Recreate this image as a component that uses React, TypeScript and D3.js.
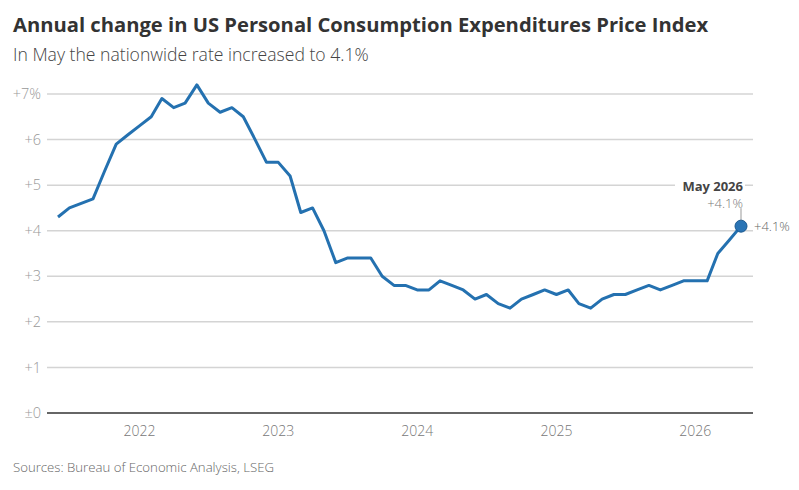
import * as d3 from "d3";

// monthly PCE price index, % change from a year earlier, Jun 2021 – May 2026
const startMonth = new Date(2021, 5, 1);
const pceChange = [
  4.3, 4.5, 4.6, 4.7, 5.3, 5.9, 6.1, 6.3, 6.5, 6.9, 6.7, 6.8,
  7.2, 6.8, 6.6, 6.7, 6.5, 6.0, 5.5, 5.5, 5.2, 4.4, 4.5, 4.0,
  3.3, 3.4, 3.4, 3.4, 3.0, 2.8, 2.8, 2.7, 2.7, 2.9, 2.8, 2.7,
  2.5, 2.6, 2.4, 2.3, 2.5, 2.6, 2.7, 2.6, 2.7, 2.4, 2.3, 2.5,
  2.6, 2.6, 2.7, 2.8, 2.7, 2.8, 2.9, 2.9, 2.9, 3.5, 3.8, 4.1,
];
const yTicks = [0, 1, 2, 3, 4, 5, 6, 7];
const yearTicks = [2022, 2023, 2024, 2025, 2026];

const W = 799;
const H = 490;
const FONT = "'Open Sans', 'Noto Sans', sans-serif";

export default function App() {
  const data = pceChange.map((v, i) => ({
    date: d3.timeMonth.offset(startMonth, i),
    value: v,
  }));

  const x = d3
    .scaleTime()
    .domain([data[0].date, data[data.length - 1].date])
    .range([58, 741]);
  const y = d3.scaleLinear().domain([0, 7]).range([413, 94]);

  const gridLeft = 47;
  const gridRight = 753;

  const line = d3
    .line<{ date: Date; value: number }>()
    .x((d) => x(d.date))
    .y((d) => y(d.value));

  const last = data[data.length - 1];
  const lx = x(last.date);
  const ly = y(last.value);

  const tickLabel = (v: number) =>
    v === 0 ? "±0" : v === 7 ? `+${v}%` : `+${v}`;

  return (
    <svg
      width={W}
      height={H}
      style={{ position: "absolute", left: 0, top: 0, background: "#fff" }}
      fontFamily={FONT}
    >
      <text x={13} y={32} fontSize={20.2} fontWeight={700} fill="#333">
        Annual change in US Personal Consumption Expenditures Price Index
      </text>
      <text x={13} y={61} fontSize={17.6} fontWeight={300} fill="#444">
        In May the nationwide rate increased to 4.1%
      </text>

      {/* horizontal gridlines */}
      {yTicks.map((t) => (
        <g key={t}>
          <line
            x1={gridLeft}
            x2={gridRight}
            y1={y(t)}
            y2={y(t)}
            stroke={t === 0 ? "#666" : "#d4d4d4"}
            strokeWidth={t === 0 ? 2 : 1.5}
          />
          <text
            x={41}
            y={y(t)}
            dy="0.35em"
            textAnchor="end"
            fontSize={14.5}
            fontWeight={300}
            fill="#999"
          >
            {tickLabel(t)}
          </text>
        </g>
      ))}

      {yearTicks.map((yr) => (
        <text
          key={yr}
          x={x(new Date(yr, 0, 1))}
          y={436}
          textAnchor="middle"
          fontSize={14}
          fontWeight={300}
          fill="#777"
        >
          {yr}
        </text>
      ))}

      <path
        d={line(data) ?? ""}
        fill="none"
        stroke="#2471b0"
        strokeWidth={3}
        strokeLinejoin="round"
      />

      {/* end-point annotation */}
      <line x1={lx} x2={lx} y1={ly - 18} y2={ly - 6} stroke="#999" strokeWidth={1} />
      <rect x={lx - 66} y={178} width={70} height={15} fill="#fff" />
      <text x={lx + 2} y={191} textAnchor="end" fontSize={13} fontWeight={700} fill="#444">
        May 2026
      </text>
      <text x={lx + 2} y={208} textAnchor="end" fontSize={13} fontWeight={300} fill="#777">
        +4.1%
      </text>
      <circle cx={lx} cy={ly} r={6} fill="#2a74b5" stroke="#1d5a90" strokeWidth={1} />
      <text x={lx + 13} y={ly} dy="0.35em" fontSize={13} fontWeight={300} fill="#666">
        +4.1%
      </text>

      <text x={13} y={472} fontSize={13.2} fontWeight={300} fill="#666">
        Sources: Bureau of Economic Analysis, LSEG
      </text>
    </svg>
  );
}
